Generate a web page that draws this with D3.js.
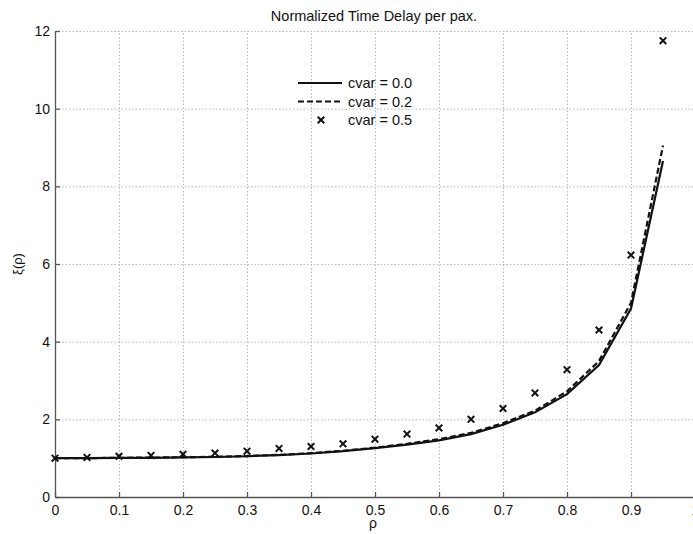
<!DOCTYPE html>
<html>
<head>
<meta charset="utf-8">
<script src="https://cdn.jsdelivr.net/npm/d3@7"></script>
<style>
  body { margin: 0; background: #fff; }
  svg { display: block; font-family: "Liberation Sans", Arial, sans-serif; }
  .grid line { stroke: #b8b8b8; stroke-dasharray: 1.5 2; }
  .grid .domain { display: none; }
  .axis text { font-size: 14px; fill: #111; }
  .axis line, .axis path { stroke: #555; stroke-width: 1.3; }
</style>
</head>
<body>
<svg width="693" height="534"></svg>
<script>
// data
const rho = [0, 0.05, 0.1, 0.15, 0.2, 0.25, 0.3, 0.35, 0.4, 0.45, 0.5, 0.55, 0.6, 0.65, 0.7, 0.75, 0.8, 0.85, 0.9, 0.95];
const cvar00 = [1.0, 1.0, 1.005, 1.01, 1.02, 1.03, 1.05, 1.08, 1.12, 1.18, 1.26, 1.35, 1.46, 1.62, 1.86, 2.18, 2.65, 3.4, 4.85, 8.65];
const cvar02 = [1.0, 1.0, 1.01, 1.015, 1.025, 1.035, 1.055, 1.085, 1.13, 1.19, 1.27, 1.37, 1.49, 1.65, 1.9, 2.22, 2.72, 3.5, 5.0, 9.05];
const cvar05 = [1.0, 1.02, 1.05, 1.07, 1.1, 1.13, 1.18, 1.25, 1.3, 1.37, 1.49, 1.62, 1.78, 2.0, 2.28, 2.68, 3.28, 4.3, 6.23, 11.75];
const xTicks = [0, 0.1, 0.2, 0.3, 0.4, 0.5, 0.6, 0.7, 0.8, 0.9, 1];
const yTicks = [0, 2, 4, 6, 8, 10, 12];
const legendLabels = ["cvar = 0.0", "cvar = 0.2", "cvar = 0.5"];

const svg = d3.select("svg");
const mLeft = 55, mRight = 695, mTop = 31, mBottom = 497;

// scales
const x = d3.scaleLinear().domain([0, 1]).range([mLeft, mRight]);
const y = d3.scaleLinear().domain([0, 12]).range([mBottom, mTop]);

// grid
svg.append("g").attr("class", "grid")
  .attr("transform", `translate(0,${mBottom})`)
  .call(d3.axisBottom(x).tickValues(xTicks.slice(1)).tickSize(-(mBottom - mTop)).tickFormat(""));
svg.append("g").attr("class", "grid")
  .attr("transform", `translate(${mLeft},0)`)
  .call(d3.axisLeft(y).tickValues(yTicks.slice(1)).tickSize(-(mRight - mLeft)).tickFormat(""));

// axes (ticks point inward)
svg.append("g").attr("class", "axis")
  .attr("transform", `translate(0,${mBottom})`)
  .call(d3.axisBottom(x).tickValues(xTicks).tickSizeInner(-5).tickSizeOuter(0).tickPadding(8)
    .tickFormat(d => d === 0 || d === 1 ? d3.format("d")(d) : d3.format(".1f")(d)));
svg.append("g").attr("class", "axis")
  .attr("transform", `translate(${mLeft},0)`)
  .call(d3.axisLeft(y).tickValues(yTicks).tickSizeInner(-5).tickSizeOuter(0).tickPadding(5));

// lines
const pts = vals => rho.map((r, i) => [r, vals[i]]);
const line = d3.line().x(d => x(d[0])).y(d => y(d[1]));

svg.append("path").datum(pts(cvar00))
  .attr("fill", "none").attr("stroke", "#111").attr("stroke-width", 2.2)
  .attr("d", line);
svg.append("path").datum(pts(cvar02))
  .attr("fill", "none").attr("stroke", "#111").attr("stroke-width", 2.2)
  .attr("stroke-dasharray", "6 3")
  .attr("d", line);

// x markers
const cross = d3.symbol().type(d3.symbolX).size(30);
svg.append("g").selectAll("path")
  .data(pts(cvar05))
  .join("path")
  .attr("transform", d => `translate(${x(d[0])},${y(d[1])})`)
  .attr("d", cross)
  .attr("fill", "none").attr("stroke", "#111").attr("stroke-width", 2);

// legend
const lg = svg.append("g").attr("transform", "translate(298,83)");
legendLabels.forEach((lab, i) => {
  const ly = i * 18.5;
  if (i < 2) {
    lg.append("line").attr("x1", 0).attr("x2", 44).attr("y1", ly).attr("y2", ly)
      .attr("stroke", "#111").attr("stroke-width", 2.2)
      .attr("stroke-dasharray", i === 1 ? "6 3" : null);
  } else {
    lg.append("path").attr("transform", `translate(23,${ly})`).attr("d", cross)
      .attr("fill", "none").attr("stroke", "#111").attr("stroke-width", 2);
  }
  lg.append("text").attr("x", 50).attr("y", ly).attr("dy", "0.35em")
    .attr("font-size", 14.5).attr("fill", "#111").text(lab);
});

// title and labels
svg.append("text").attr("x", (mLeft + mRight) / 2 - 1).attr("y", 21)
  .attr("text-anchor", "middle").attr("font-size", 14.5).attr("fill", "#111")
  .text("Normalized Time Delay per pax.");
svg.append("text").attr("x", 373).attr("y", 528)
  .attr("text-anchor", "middle").attr("font-size", 14).attr("fill", "#111").text("ρ");
svg.append("text").attr("transform", "translate(22,264) rotate(-90)")
  .attr("text-anchor", "middle").attr("font-size", 13).attr("fill", "#111").text("ξ(ρ)");
</script>
</body>
</html>
